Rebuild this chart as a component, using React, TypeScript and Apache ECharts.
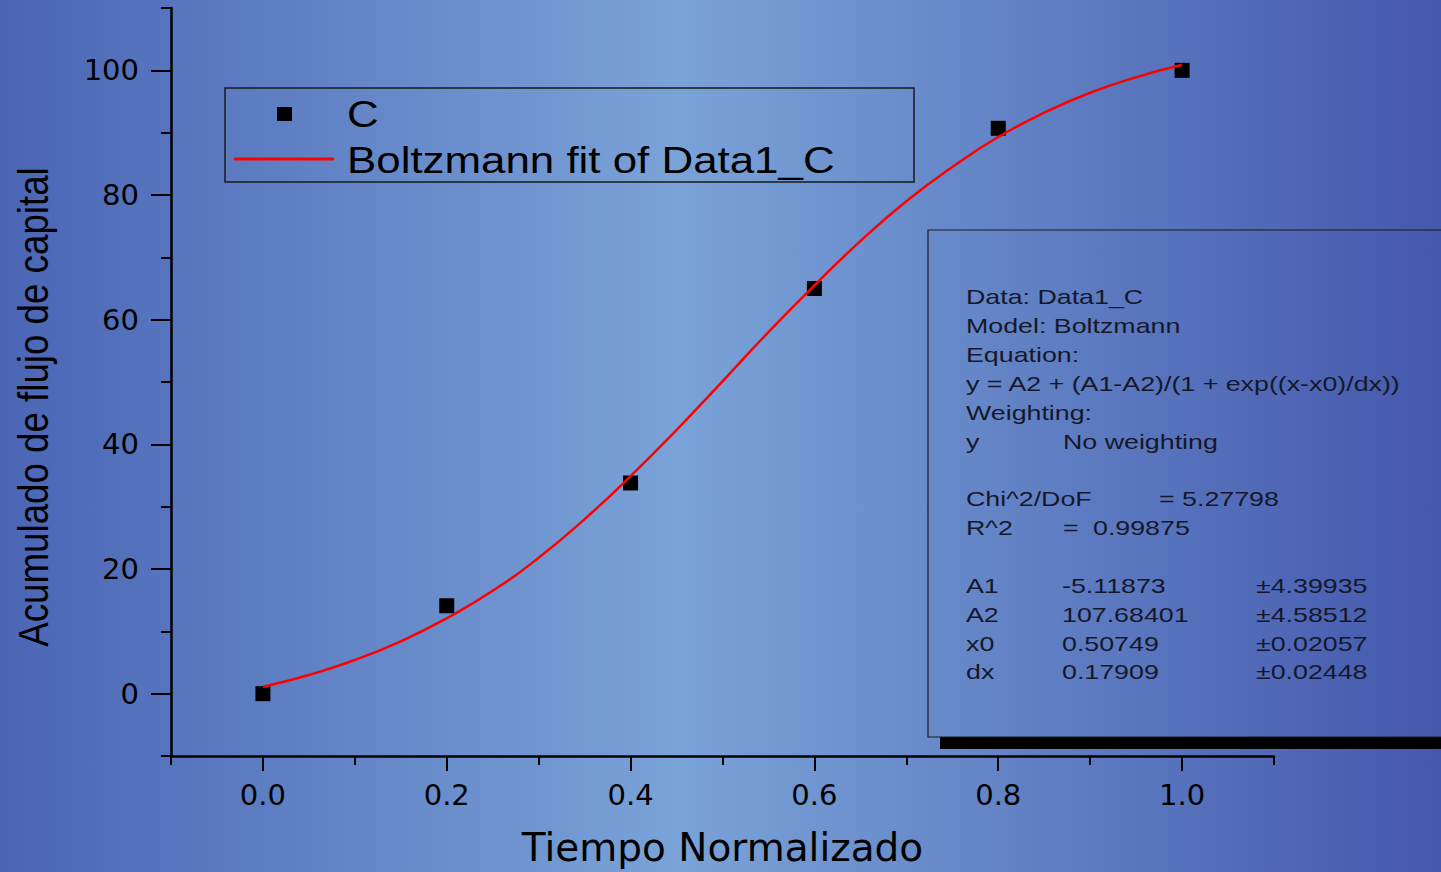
import React, { useEffect, useRef } from "react";
import * as echarts from "echarts";

// ---- data ----
const pointX = [0, 0.2, 0.4, 0.6, 0.8, 1.0];
const pointY = [0, 14.1, 33.8, 65.0, 90.7, 100.0];

const fitX = [0, 0.05, 0.1, 0.15, 0.2, 0.25, 0.3, 0.35, 0.4, 0.45, 0.5, 0.55, 0.6, 0.65, 0.7, 0.75, 0.8, 0.85, 0.9, 0.95, 1.0];
const fitY = [1.1, 3.0, 5.4, 8.4, 12.1, 16.5, 21.8, 28.0, 34.9, 42.3, 50.1, 58.0, 65.5, 72.6, 79.0, 84.5, 89.3, 93.2, 96.4, 98.9, 100.9];

const xMajorTicks = [0, 0.2, 0.4, 0.6, 0.8, 1.0];
const xMinorTicks = [-0.1, 0.1, 0.3, 0.5, 0.7, 0.9, 1.1];
const yMajorTicks = [0, 20, 40, 60, 80, 100];
const yMinorTicks = [-10, 10, 30, 50, 70, 90, 110];

const seriesNames = ["C", "Boltzmann fit of Data1_C"];
const xTitle = "Tiempo Normalizado";
const yTitle = "Acumulado de flujo de capital";

const statsHeader = [
  "Data: Data1_C",
  "Model: Boltzmann",
  "Equation:",
  "y = A2 + (A1-A2)/(1 + exp((x-x0)/dx))",
  "Weighting:",
];
const weightingRow = ["y", "No weighting"];
const chiRow = ["Chi^2/DoF", "= 5.27798"];
const r2Row = ["R^2", "=", "0.99875"];
const paramNames = ["A1", "A2", "x0", "dx"];
const paramValues = ["-5.11873", "107.68401", "0.50749", "0.17909"];
const paramErrors = ["±4.39935", "±4.58512", "±0.02057", "±0.02448"];

const bgStops = [
  { offset: 0, color: "#4b65b5" },
  { offset: 0.47, color: "#7aa3d8" },
  { offset: 1, color: "#4458ad" },
];

export default function App() {
  const ref = useRef<HTMLDivElement>(null);

  useEffect(() => {
    if (!ref.current) return;
    const chart = echarts.init(ref.current, undefined, { renderer: "svg" });

    const statFont = {
      fontFamily: "Liberation Sans, Arial, sans-serif",
      fontSize: 20,
      fill: "#15182a",
    };
    const statSX = 1.34;
    const statText = (text: string, x: number, y: number) => ({
      type: "text",
      x,
      y,
      scaleX: statSX,
      z: 20,
      style: { ...statFont, text, align: "left", verticalAlign: "middle" },
    });

    const statsElems: any[] = [];
    const headerY = [297, 326, 355, 384, 413];
    statsHeader.forEach((t, i) => statsElems.push(statText(t, 966, headerY[i])));
    statsElems.push(statText(weightingRow[0], 966, 442));
    statsElems.push(statText(weightingRow[1], 1063, 442));
    statsElems.push(statText(chiRow[0], 966, 499));
    statsElems.push(statText(chiRow[1], 1159, 499));
    statsElems.push(statText(r2Row[0], 966, 528));
    statsElems.push(statText(r2Row[1], 1063, 528));
    statsElems.push(statText(r2Row[2], 1093, 528));
    const paramY = [586, 615, 644, 672];
    paramNames.forEach((n, i) => {
      statsElems.push(statText(n, 966, paramY[i]));
      statsElems.push(statText(paramValues[i], 1062, paramY[i]));
      statsElems.push(statText(paramErrors[i], 1256, paramY[i]));
    });

    const legendFont = "Liberation Sans, Arial, sans-serif";

    const option: any = {
      animation: false,
      backgroundColor: "transparent",
      grid: { left: 171, right: 167, top: 8, bottom: 115, containLabel: false },
      xAxis: [
        {
          type: "value",
          min: -0.1,
          max: 1.1,
          interval: 0.1,
          name: xTitle,
          nameLocation: "middle",
          nameGap: 72,
          nameTextStyle: { fontFamily: "DejaVu Sans", fontSize: 39, color: "#000" },
          axisLine: { show: true, onZero: false, lineStyle: { color: "#000", width: 2.5 } },
          axisTick: { show: true, customValues: xMajorTicks, length: 15, lineStyle: { color: "#000", width: 2 } },
          axisLabel: {
            customValues: xMajorTicks,
            formatter: (v: number) => v.toFixed(1),
            fontFamily: "DejaVu Sans",
            fontSize: 29,
            color: "#000",
            margin: 24,
          },
          splitLine: { show: false },
        },
        {
          type: "value",
          min: -0.1,
          max: 1.1,
          interval: 0.1,
          position: "bottom",
          axisLine: { show: false, onZero: false },
          axisTick: { show: true, customValues: xMinorTicks, length: 9, lineStyle: { color: "#000", width: 2 } },
          axisLabel: { show: false },
          splitLine: { show: false },
        },
      ],
      yAxis: [
        {
          type: "value",
          min: -10,
          max: 110,
          interval: 10,
          axisLine: { show: true, onZero: false, lineStyle: { color: "#000", width: 2.5 } },
          axisTick: { show: true, customValues: yMajorTicks, length: 20, lineStyle: { color: "#000", width: 2 } },
          axisLabel: {
            customValues: yMajorTicks,
            fontFamily: "DejaVu Sans",
            fontSize: 29,
            color: "#000",
            margin: 32,
          },
          splitLine: { show: false },
        },
        {
          type: "value",
          min: -10,
          max: 110,
          interval: 10,
          position: "left",
          axisLine: { show: false, onZero: false },
          axisTick: { show: true, customValues: yMinorTicks, length: 10, lineStyle: { color: "#000", width: 2 } },
          axisLabel: { show: false },
          splitLine: { show: false },
        },
      ],
      series: [
        {
          name: seriesNames[0],
          type: "scatter",
          xAxisIndex: 0,
          yAxisIndex: 0,
          symbol: "rect",
          symbolSize: 15,
          itemStyle: { color: "#000", opacity: 1 },
          data: pointX.map((x, i) => [x, pointY[i]]),
          z: 2,
        },
        {
          name: seriesNames[1],
          type: "line",
          xAxisIndex: 0,
          yAxisIndex: 0,
          showSymbol: false,
          smooth: true,
          lineStyle: { color: "#ff0000", width: 2.5 },
          itemStyle: { color: "#ff0000" },
          data: fitX.map((x, i) => [x, fitY[i]]),
          z: 3,
        },
      ],
      graphic: [
        // y-axis title
        {
          type: "text",
          x: 33,
          y: 407,
          rotation: Math.PI / 2,
          scaleY: 1.17,
          style: {
            text: yTitle,
            fontFamily: legendFont,
            fontSize: 36.7,
            fill: "#000",
            align: "center",
            verticalAlign: "middle",
          },
        },
        // legend box
        {
          type: "rect",
          shape: { x: 225, y: 88, width: 689, height: 94 },
          style: { fill: "none", stroke: "#1a1a1a", lineWidth: 1.5 },
          z: 10,
        },
        {
          type: "rect",
          shape: { x: 277, y: 107, width: 15, height: 14 },
          style: { fill: "#000" },
          z: 10,
        },
        {
          type: "line",
          shape: { x1: 234, y1: 159, x2: 334, y2: 159 },
          style: { stroke: "#ff0000", lineWidth: 3 },
          z: 10,
        },
        {
          type: "text",
          x: 347,
          y: 114,
          scaleX: 1.17,
          z: 10,
          style: { text: seriesNames[0], fontFamily: legendFont, fontSize: 37.5, fill: "#000", align: "left", verticalAlign: "middle" },
        },
        {
          type: "text",
          x: 347,
          y: 160,
          scaleX: 1.17,
          z: 10,
          style: { text: seriesNames[1], fontFamily: legendFont, fontSize: 37.5, fill: "#000", align: "left", verticalAlign: "middle" },
        },
        // stats box shadow and box
        {
          type: "rect",
          shape: { x: 940, y: 242, width: 600, height: 507 },
          style: { fill: "#000" },
          z: 18,
        },
        {
          type: "rect",
          shape: { x: 928, y: 230, width: 600, height: 507 },
          style: {
            fill: { type: "linear", x: 0, y: 0, x2: 1441, y2: 0, global: true, colorStops: bgStops },
            stroke: "#1a1a1a",
            lineWidth: 1.2,
          },
          z: 19,
        },
        ...statsElems,
      ],
    };

    chart.setOption(option);
    return () => chart.dispose();
  }, []);

  const bg = `linear-gradient(to right, ${bgStops.map((s) => `${s.color} ${s.offset * 100}%`).join(", ")})`;

  return (
    <div
      ref={ref}
      style={{ position: "fixed", left: 0, top: 0, width: 1441, height: 872, background: bg }}
    />
  );
}
